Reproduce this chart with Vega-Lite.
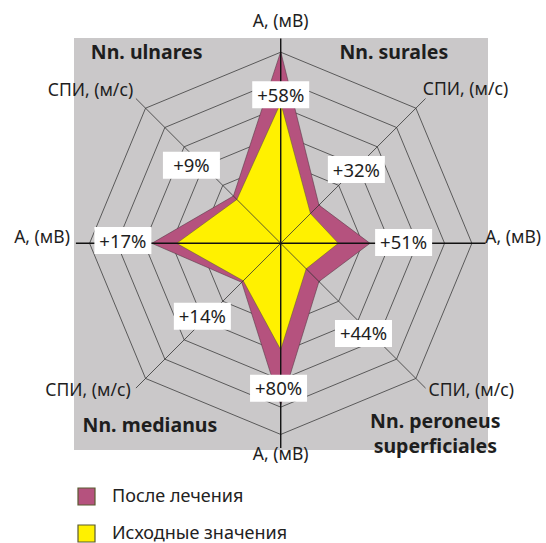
{
  "$schema": "https://vega.github.io/schema/vega-lite/v6.json",
  "width": 414,
  "height": 412,
  "autosize": {"type": "none"},
  "padding": {"left": 74, "top": 38, "right": 58, "bottom": 93},
  "background": "white",
  "config": {
    "view": {"fill": "#cac8c9", "stroke": null},
    "font": "Noto Sans"
  },
  "datasets": {
    "poly": [
      {"series": "После лечения", "a": 0, "r": 7.02},
      {"series": "После лечения", "a": 1, "r": 1.98},
      {"series": "После лечения", "a": 2, "r": 3.27},
      {"series": "После лечения", "a": 3, "r": 1.98},
      {"series": "После лечения", "a": 4, "r": 5.93},
      {"series": "После лечения", "a": 5, "r": 2.02},
      {"series": "После лечения", "a": 6, "r": 4.72},
      {"series": "После лечения", "a": 7, "r": 2.45},
      {"series": "Исходные значения", "a": 0, "r": 5.15},
      {"series": "Исходные значения", "a": 1, "r": 1.54},
      {"series": "Исходные значения", "a": 2, "r": 2.11},
      {"series": "Исходные значения", "a": 3, "r": 1.32},
      {"series": "Исходные значения", "a": 4, "r": 3.9},
      {"series": "Исходные значения", "a": 5, "r": 1.94},
      {"series": "Исходные значения", "a": 6, "r": 3.81},
      {"series": "Исходные значения", "a": 7, "r": 2.27}
    ],
    "rings": [
      {"ring": 1, "a": [0, 1, 2, 3, 4, 5, 6, 7]},
      {"ring": 2, "a": [0, 1, 2, 3, 4, 5, 6, 7]},
      {"ring": 3, "a": [0, 1, 2, 3, 4, 5, 6, 7]},
      {"ring": 4, "a": [0, 1, 2, 3, 4, 5, 6, 7]},
      {"ring": 5, "a": [0, 1, 2, 3, 4, 5, 6, 7]},
      {"ring": 6, "a": [0, 1, 2, 3, 4, 5, 6, 7]},
      {"ring": 7, "a": [0, 1, 2, 3, 4, 5, 6, 7]}
    ],
    "spokes": [
      {"a": 0, "len": 7.5}, {"a": 1, "len": 7.5}, {"a": 2, "len": 7.5}, {"a": 3, "len": 7.5},
      {"a": 4, "len": 7.5}, {"a": 5, "len": 7.5}, {"a": 6, "len": 7.5}, {"a": 7, "len": 7.5}
    ],
    "pct": [
      {"t": "+58%", "ux": 0, "uy": 5.44},
      {"t": "+32%", "ux": 2.77, "uy": 2.7},
      {"t": "+51%", "ux": 4.5, "uy": 0.03},
      {"t": "+44%", "ux": 3.03, "uy": -3.3},
      {"t": "+80%", "ux": -0.08, "uy": -5.31},
      {"t": "+14%", "ux": -2.87, "uy": -2.67},
      {"t": "+17%", "ux": -5.78, "uy": 0.1},
      {"t": "+9%", "ux": -3.27, "uy": 2.86}
    ],
    "axlab": [
      {"pos": "top", "t": "A, (мВ)", "ux": 0, "uy": 8.12},
      {"pos": "bottom", "t": "A, (мВ)", "ux": 0, "uy": -7.77},
      {"pos": "right", "t": "A, (мВ)", "ux": 7.49, "uy": 0.18},
      {"pos": "left", "t": "A, (мВ)", "ux": -7.72, "uy": 0.18},
      {"pos": "topleft", "t": "СПИ, (м/с)", "ux": -5.4, "uy": 5.59},
      {"pos": "topright", "t": "СПИ, (м/с)", "ux": 5.2, "uy": 5.62},
      {"pos": "bottomright", "t": "СПИ, (м/с)", "ux": 5.41, "uy": -5.41},
      {"pos": "bottomleft", "t": "СПИ, (м/с)", "ux": -5.49, "uy": -5.41}
    ],
    "titles": [
      {"t": "Nn. ulnares", "ux": -4.91, "uy": 6.97},
      {"t": "Nn. surales", "ux": 4.14, "uy": 6.97},
      {"t": "Nn. medianus", "ux": -4.79, "uy": -6.69},
      {"t": "Nn. peroneus\nsuperficiales", "ux": 5.66, "uy": -6.55}
    ]
  },
  "layer": [
    {
      "data": {"name": "rings"},
      "transform": [
        {"flatten": ["a"]},
        {"calculate": "datum.ring * sin(datum.a * PI / 4)", "as": "x"},
        {"calculate": "datum.ring * cos(datum.a * PI / 4)", "as": "y"}
      ],
      "mark": {"type": "line", "interpolate": "linear-closed", "stroke": "#3c3c3c", "strokeWidth": 0.8},
      "encoding": {
        "x": {"field": "x", "type": "quantitative", "scale": {"domain": [-7.57, 7.59], "nice": false, "zero": false}, "axis": null},
        "y": {"field": "y", "type": "quantitative", "scale": {"domain": [-7.57, 7.52], "nice": false, "zero": false}, "axis": null},
        "detail": {"field": "ring", "type": "nominal"},
        "order": {"field": "a", "type": "quantitative"}
      }
    },
    {
      "data": {"name": "poly"},
      "transform": [
        {"filter": "datum.series == 'После лечения'"},
        {"calculate": "datum.r * sin(datum.a * PI / 4)", "as": "x"},
        {"calculate": "datum.r * cos(datum.a * PI / 4)", "as": "y"}
      ],
      "mark": {"type": "line", "interpolate": "linear-closed", "stroke": "#5a3a48", "strokeWidth": 0.6},
      "encoding": {
        "x": {"field": "x", "type": "quantitative", "scale": {"domain": [-7.57, 7.59], "nice": false, "zero": false}, "axis": null},
        "y": {"field": "y", "type": "quantitative", "scale": {"domain": [-7.57, 7.52], "nice": false, "zero": false}, "axis": null},
        "fill": {
          "field": "series", "type": "nominal",
          "scale": {"domain": ["После лечения", "Исходные значения"], "range": ["#b5527e", "#fff100"]},
          "legend": {
            "orient": "none", "legendX": 3, "legendY": 449, "title": null,
            "symbolType": "square", "symbolSize": 289, "symbolStrokeColor": "#333333", "symbolStrokeWidth": 1.2,
            "symbolOpacity": 1, "labelFont": "Noto Sans", "labelFontSize": 18, "labelColor": "#222222",
            "labelOffset": 16, "rowPadding": 14, "labelLimit": 400
          }
        },
        "order": {"field": "a", "type": "quantitative"}
      }
    },
    {
      "data": {"name": "poly"},
      "transform": [
        {"filter": "datum.series == 'Исходные значения'"},
        {"calculate": "datum.r * sin(datum.a * PI / 4)", "as": "x"},
        {"calculate": "datum.r * cos(datum.a * PI / 4)", "as": "y"}
      ],
      "mark": {"type": "line", "interpolate": "linear-closed", "stroke": "#5a5a30", "strokeWidth": 0.5},
      "encoding": {
        "x": {"field": "x", "type": "quantitative", "scale": {"domain": [-7.57, 7.59], "nice": false, "zero": false}, "axis": null},
        "y": {"field": "y", "type": "quantitative", "scale": {"domain": [-7.57, 7.52], "nice": false, "zero": false}, "axis": null},
        "fill": {"field": "series", "type": "nominal"},
        "order": {"field": "a", "type": "quantitative"}
      }
    },
    {
      "data": {"name": "spokes"},
      "transform": [
        {"calculate": "datum.len * sin(datum.a * PI / 4)", "as": "x"},
        {"calculate": "datum.len * cos(datum.a * PI / 4)", "as": "y"}
      ],
      "mark": {"type": "rule"},
      "encoding": {
        "x": {"field": "x", "type": "quantitative", "scale": {"domain": [-7.57, 7.59], "nice": false, "zero": false}, "axis": null},
        "y": {"field": "y", "type": "quantitative", "scale": {"domain": [-7.57, 7.52], "nice": false, "zero": false}, "axis": null},
        "x2": {"datum": 0},
        "y2": {"datum": 0},
        "stroke": {"condition": {"test": "datum.a % 2 == 0", "value": "#111111"}, "value": "#333333"},
        "strokeWidth": {"condition": {"test": "datum.a % 2 == 0", "value": 1.4}, "value": 0.8}
      }
    },
    {
      "data": {"name": "pct"},
      "mark": {"type": "point", "shape": "M-1,-0.4737L1,-0.4737L1,0.4737L-1,0.4737Z", "size": 3249, "filled": true, "fill": "white", "opacity": 1, "strokeWidth": 0},
      "encoding": {
        "x": {"field": "ux", "type": "quantitative", "scale": {"domain": [-7.57, 7.59], "nice": false, "zero": false}, "axis": null},
        "y": {"field": "uy", "type": "quantitative", "scale": {"domain": [-7.57, 7.52], "nice": false, "zero": false}, "axis": null}
      }
    },
    {
      "data": {"name": "pct"},
      "mark": {"type": "text", "fontSize": 18.5, "color": "#1e1e1e", "align": "center", "baseline": "middle", "dy": 1},
      "encoding": {
        "x": {"field": "ux", "type": "quantitative", "scale": {"domain": [-7.57, 7.59], "nice": false, "zero": false}, "axis": null},
        "y": {"field": "uy", "type": "quantitative", "scale": {"domain": [-7.57, 7.52], "nice": false, "zero": false}, "axis": null},
        "text": {"field": "t", "type": "nominal"}
      }
    },
    {
      "data": {"name": "axlab"},
      "transform": [{"filter": "datum.pos == 'top' || datum.pos == 'bottom'"}],
      "mark": {"type": "text", "fontSize": 17.5, "color": "#1e1e1e", "align": "center", "baseline": "middle"},
      "encoding": {
        "x": {"field": "ux", "type": "quantitative", "scale": {"domain": [-7.57, 7.59], "nice": false, "zero": false}, "axis": null},
        "y": {"field": "uy", "type": "quantitative", "scale": {"domain": [-7.57, 7.52], "nice": false, "zero": false}, "axis": null},
        "text": {"field": "t", "type": "nominal"}
      }
    },
    {
      "data": {"name": "axlab"},
      "transform": [{"filter": "datum.pos == 'right' || datum.pos == 'topright' || datum.pos == 'bottomright'"}],
      "mark": {"type": "text", "fontSize": 17.5, "color": "#1e1e1e", "align": "left", "baseline": "middle"},
      "encoding": {
        "x": {"field": "ux", "type": "quantitative", "scale": {"domain": [-7.57, 7.59], "nice": false, "zero": false}, "axis": null},
        "y": {"field": "uy", "type": "quantitative", "scale": {"domain": [-7.57, 7.52], "nice": false, "zero": false}, "axis": null},
        "text": {"field": "t", "type": "nominal"}
      }
    },
    {
      "data": {"name": "axlab"},
      "transform": [{"filter": "datum.pos == 'left' || datum.pos == 'topleft' || datum.pos == 'bottomleft'"}],
      "mark": {"type": "text", "fontSize": 17.5, "color": "#1e1e1e", "align": "right", "baseline": "middle"},
      "encoding": {
        "x": {"field": "ux", "type": "quantitative", "scale": {"domain": [-7.57, 7.59], "nice": false, "zero": false}, "axis": null},
        "y": {"field": "uy", "type": "quantitative", "scale": {"domain": [-7.57, 7.52], "nice": false, "zero": false}, "axis": null},
        "text": {"field": "t", "type": "nominal"}
      }
    },
    {
      "data": {"name": "titles"},
      "mark": {"type": "text", "fontSize": 19.5, "fontWeight": "bold", "color": "#1e1e1e", "align": "center", "baseline": "middle", "lineBreak": "\n", "lineHeight": 25},
      "encoding": {
        "x": {"field": "ux", "type": "quantitative", "scale": {"domain": [-7.57, 7.59], "nice": false, "zero": false}, "axis": null},
        "y": {"field": "uy", "type": "quantitative", "scale": {"domain": [-7.57, 7.52], "nice": false, "zero": false}, "axis": null},
        "text": {"field": "t", "type": "nominal"}
      }
    }
  ]
}
